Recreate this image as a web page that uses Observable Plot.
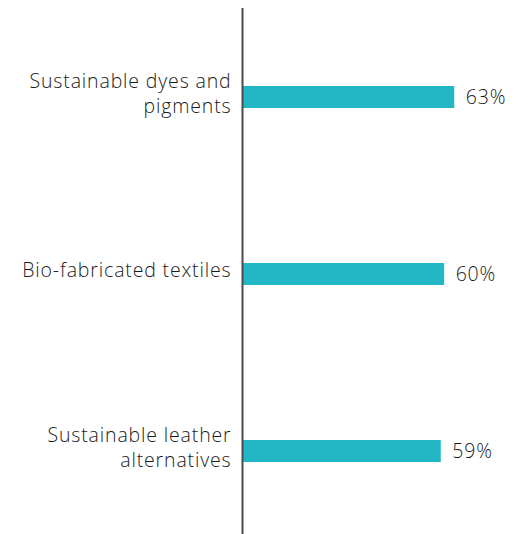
<!DOCTYPE html>
<html>
<head>
<meta charset="utf-8">
<script src="https://cdn.jsdelivr.net/npm/d3@7"></script>
<script src="https://cdn.jsdelivr.net/npm/@observablehq/plot@0.6"></script>
<style>
  html, body { margin: 0; padding: 0; background: #fff; }
  #chart svg { display: block; }
  #chart svg text { letter-spacing: 0.85px; }
</style>
</head>
<body>
<div id="chart"></div>
<script>
const categories = ["Sustainable dyes and pigments", "Bio-fabricated textiles", "Sustainable leather alternatives"];
const categoryLabels = ["Sustainable dyes and\npigments", "Bio-fabricated textiles", "Sustainable leather\nalternatives"];
const values = [63, 60, 59];

const data = categories.map((c, i) => ({category: c, label: categoryLabels[i], value: values[i]}));

const font = "Open Sans, Lato, sans-serif";
const chart = Plot.plot({
  width: 532,
  height: 534,
  marginLeft: 242,
  marginRight: 7,
  marginTop: 8,
  marginBottom: 0,
  style: {fontFamily: font, fontSize: "19.5px", color: "#1a1a1a", background: "#fff"},
  x: {domain: [0, 84], axis: null},
  y: {domain: categories, range: [8, 539], paddingInner: 0.876, paddingOuter: 0.438, axis: null},
  marks: [
    Plot.barX(data, {x: "value", y: "category", fill: "#23B7C5"}),
    Plot.ruleX([0], {stroke: "#4a4a4a", strokeWidth: 2}),
    Plot.text(data, {x: "value", y: "category", text: d => d.value + "%", textAnchor: "start", dx: 11, fill: "#1a1a1a", fontSize: 19.5, fontWeight: 300}),
    Plot.text(data, {x: 0, y: "category", text: "label", textAnchor: "end", dx: -11, dy: -5, lineHeight: 1.26, fill: "#1a1a1a", fontSize: 19.5, fontWeight: 300})
  ]
});
document.getElementById("chart").appendChild(chart);
</script>
</body>
</html>
